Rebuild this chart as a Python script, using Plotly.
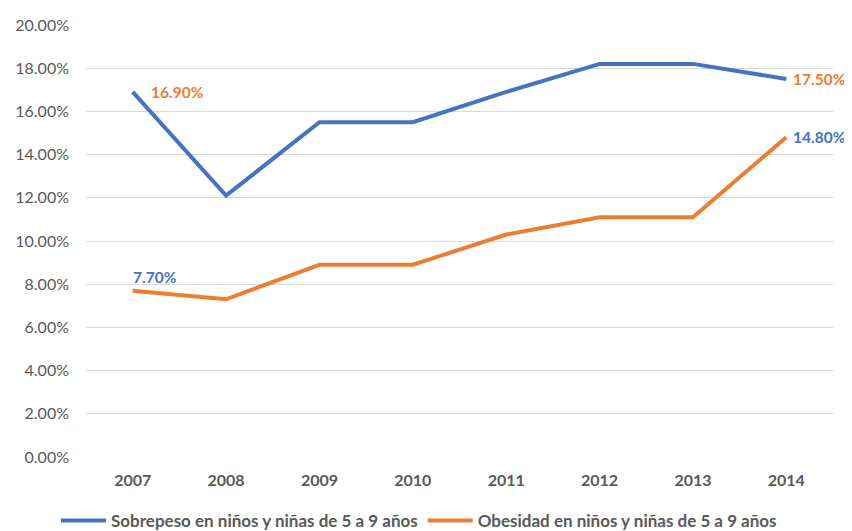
import plotly.graph_objects as go

years = [2007, 2008, 2009, 2010, 2011, 2012, 2013, 2014]
sobrepeso = [16.9, 12.1, 15.5, 15.5, 16.9, 18.2, 18.2, 17.5]
obesidad = [7.7, 7.3, 8.9, 8.9, 10.3, 11.1, 11.1, 14.8]
name_sob = "Sobrepeso en niños y niñas de 5 a 9 años"
name_obe = "Obesidad en niños y niñas de 5 a 9 años"
y_ticks = [0, 2, 4, 6, 8, 10, 12, 14, 16, 18, 20]
y_tick_labels = [f"{v:.2f}%" for v in y_ticks]

BLUE = "#4472C4"
ORANGE = "#ED7D31"
FONT = "Lato, sans-serif"

fig = go.Figure()
fig.add_trace(go.Scatter(x=years, y=sobrepeso, mode="lines", name=name_sob,
                         line=dict(color=BLUE, width=4)))
fig.add_trace(go.Scatter(x=years, y=obesidad, mode="lines", name=name_obe,
                         line=dict(color=ORANGE, width=4)))

lbl = 15.5
fig.add_annotation(x=years[0], y=sobrepeso[0], text=f"<b>{sobrepeso[0]:.2f}%</b>",
                   showarrow=False, xanchor="left", yanchor="middle",
                   xshift=16, yshift=0, font=dict(family=FONT, size=lbl, color=ORANGE))
fig.add_annotation(x=years[0], y=obesidad[0], text=f"<b>{obesidad[0]:.2f}%</b>",
                   showarrow=False, xanchor="left", yanchor="bottom",
                   xshift=-2, yshift=3, font=dict(family=FONT, size=lbl, color=BLUE))
fig.add_annotation(x=years[-1], y=sobrepeso[-1], text=f"<b>{sobrepeso[-1]:.2f}%</b>",
                   showarrow=False, xanchor="left", yanchor="middle",
                   xshift=5, yshift=0, font=dict(family=FONT, size=lbl, color=ORANGE))
fig.add_annotation(x=years[-1], y=obesidad[-1], text=f"<b>{obesidad[-1]:.2f}%</b>",
                   showarrow=False, xanchor="left", yanchor="middle",
                   xshift=5, yshift=0, font=dict(family=FONT, size=lbl, color=BLUE))

fig.update_layout(
    width=844, height=523,
    margin=dict(l=78, r=19, t=17, b=74, autoexpand=False),
    paper_bgcolor="white", plot_bgcolor="white",
    font=dict(family=FONT, size=16, color="#595959"),
    showlegend=True,
    legend=dict(orientation="h", xref="container", yref="container",
                x=0.487, xanchor="center", y=0.019, yanchor="middle",
                font=dict(family=FONT, size=17, color="#595959", weight="bold"),
                itemwidth=45, tracegroupgap=0),
    xaxis=dict(range=[2006.5, 2014.5], tickmode="array", tickvals=years,
               ticktext=[str(y) for y in years], automargin=False,
               showgrid=False, zeroline=False, showline=False,
               ticks="", tickfont=dict(family=FONT, size=16, color="#595959",
                                       weight="bold"),
               ticklabelstandoff=12),
    yaxis=dict(range=[0, 20], tickmode="array", tickvals=y_ticks, ticktext=y_tick_labels,
               automargin=False,
               showgrid=True, gridcolor="#D9D9D9", gridwidth=1, zeroline=False,
               showline=False, ticks="", ticklabelstandoff=16,
               tickfont=dict(family=FONT, size=16, color="#595959")),
)

fig.write_html("out.html")
